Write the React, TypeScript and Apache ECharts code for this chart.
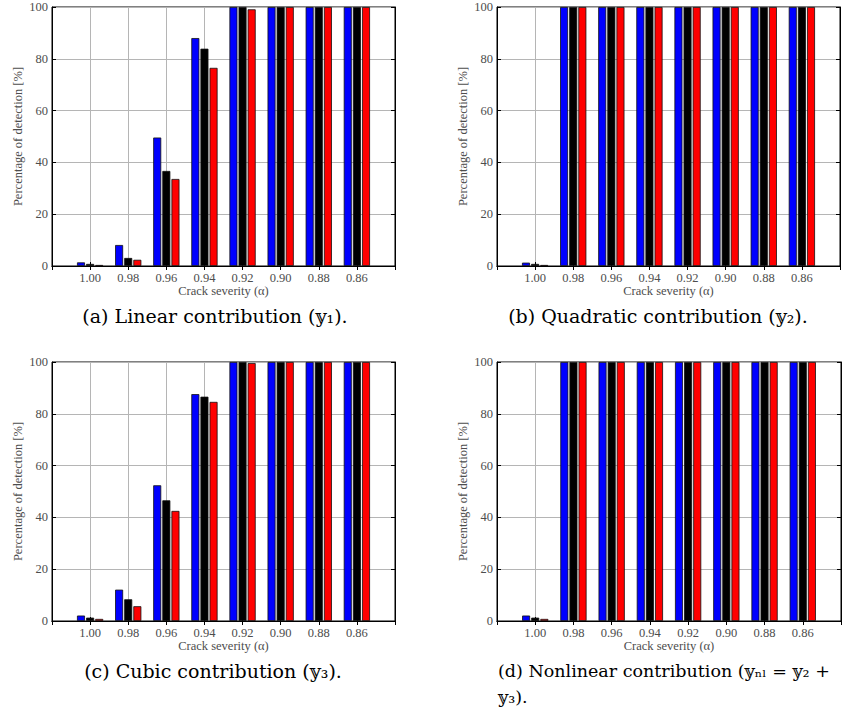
import React, { useEffect, useRef } from "react";
import * as echarts from "echarts";

const categories = ["1.00", "0.98", "0.96", "0.94", "0.92", "0.90", "0.88", "0.86"];
const yTicks = [0, 20, 40, 60, 80, 100];

const linearBlue = [1.4, 8.1, 49.6, 88.0, 100, 100, 100, 100];
const linearBlack = [0.8, 3.1, 36.7, 83.9, 100, 100, 100, 100];
const linearRed = [0.4, 2.4, 33.6, 76.5, 99.1, 100, 100, 100];

const quadBlue = [1.3, 100, 100, 100, 100, 100, 100, 100];
const quadBlack = [0.8, 100, 100, 100, 100, 100, 100, 100];
const quadRed = [0.4, 100, 100, 100, 100, 100, 100, 100];

const cubicBlue = [2.1, 12.1, 52.4, 87.6, 100, 100, 100, 100];
const cubicBlack = [1.3, 8.4, 46.6, 86.6, 100, 100, 100, 100];
const cubicRed = [0.8, 5.7, 42.5, 84.6, 99.6, 100, 100, 100];

const nlBlue = [2.1, 100, 100, 100, 100, 100, 100, 100];
const nlBlack = [1.3, 100, 100, 100, 100, 100, 100, 100];
const nlRed = [0.8, 100, 100, 100, 100, 100, 100, 100];

const seriesColors = ["#0000ff", "#000000", "#ff0000"];

const panels = [
  { grid: { left: 52, top: 7, width: 343, height: 259 }, data: [linearBlue, linearBlack, linearRed] },
  { grid: { left: 497, top: 7, width: 343, height: 259 }, data: [quadBlue, quadBlack, quadRed] },
  { grid: { left: 52, top: 362, width: 343, height: 259 }, data: [cubicBlue, cubicBlack, cubicRed] },
  { grid: { left: 497, top: 362, width: 344, height: 259 }, data: [nlBlue, nlBlack, nlRed] },
];

const captions = [
  { text: "(a) Linear contribution (𝕪₁).", x: 215, y: 316, align: "center", size: 19 },
  { text: "(b) Quadratic contribution (𝕪₂).", x: 658, y: 316, align: "center", size: 19 },
  { text: "(c) Cubic contribution (𝕪₃).", x: 213, y: 671, align: "center", size: 19 },
  { text: "(d) Nonlinear contribution (𝕪ₙₗ = 𝕪₂ +", x: 498, y: 671, align: "left", size: 17.5 },
  { text: "𝕪₃).", x: 498, y: 697, align: "left", size: 17.5 },
];

const tickFont = {
  fontFamily: "'Liberation Serif', 'DejaVu Serif', serif",
  fontSize: 12.5,
  color: "#4d4d4d",
};

export default function App() {
  const ref = useRef<HTMLDivElement>(null);
  useEffect(() => {
    if (!ref.current) return;
    const chart = echarts.init(ref.current, undefined, { renderer: "svg" });
    const xData = ["", ...categories, ""];
    const grids: any[] = [];
    const xAxes: any[] = [];
    const yAxes: any[] = [];
    const series: any[] = [];
    panels.forEach((p, i) => {
      grids.push({ ...p.grid, show: true, borderColor: "#000", borderWidth: 1, containLabel: false });
      xAxes.push({
        type: "category",
        gridIndex: i,
        data: xData,
        boundaryGap: false,
        position: "bottom",
        name: "Crack severity (α)",
        nameLocation: "middle",
        nameGap: 18,
        nameTextStyle: { ...tickFont },
        axisLine: { show: true, lineStyle: { color: "#000", width: 1 } },
        axisTick: { show: true, inside: true, length: 4, lineStyle: { color: "#000" }, interval: 0 },
        axisLabel: { ...tickFont, margin: 5, interval: 0 },
        splitLine: { show: true, interval: 0, lineStyle: { color: "#b5b5b5", width: 1 } },
      });
      xAxes.push({
        type: "category",
        gridIndex: i,
        data: xData,
        boundaryGap: false,
        position: "top",
        axisLine: { show: true, lineStyle: { color: "#000", width: 1 } },
        axisTick: { show: true, inside: true, length: 4, lineStyle: { color: "#000" }, interval: 0 },
        axisLabel: { show: false },
        splitLine: { show: false },
      });
      yAxes.push({
        type: "value",
        gridIndex: i,
        min: 0,
        max: 100,
        interval: 20,
        position: "left",
        name: "Percentage of detection [%]",
        nameLocation: "middle",
        nameGap: 28,
        nameTextStyle: { ...tickFont },
        axisLine: { show: true, lineStyle: { color: "#000", width: 1 } },
        axisTick: { show: true, inside: true, length: 4, lineStyle: { color: "#000" } },
        axisLabel: { ...tickFont, margin: 4, formatter: (v: number) => (yTicks.includes(v) ? String(v) : "") },
        splitLine: { show: true, lineStyle: { color: "#b5b5b5", width: 1 } },
      });
      yAxes.push({
        type: "value",
        gridIndex: i,
        min: 0,
        max: 100,
        interval: 20,
        position: "right",
        axisLine: { show: true, lineStyle: { color: "#000", width: 1 } },
        axisTick: { show: true, inside: true, length: 4, lineStyle: { color: "#000" } },
        axisLabel: { show: false },
        splitLine: { show: false },
      });
      p.data.forEach((vals, s) => {
        series.push({
          type: "bar",
          xAxisIndex: 2 * i,
          yAxisIndex: 2 * i,
          data: ["-", ...vals, "-"],
          barWidth: 8,
          barGap: "14%",
          itemStyle: { color: seriesColors[s], borderColor: "#111", borderWidth: 0.8 },
          z: 3,
        });
      });
    });
    const graphics = captions.map((c) => ({
      type: "text",
      x: c.x,
      y: c.y,
      style: {
        text: c.text,
        fontFamily: "'DejaVu Serif', 'DejaVu Sans', serif",
        fontSize: c.size,
        fill: "#000",
        align: c.align,
        verticalAlign: "middle",
      },
    }));
    chart.setOption({
      animation: false,
      backgroundColor: "#fff",
      grid: grids,
      xAxis: xAxes,
      yAxis: yAxes,
      series,
      graphic: graphics,
    });
    return () => chart.dispose();
  }, []);
  return (
    <div
      ref={ref}
      style={{ position: "fixed", left: 0, top: 0, width: 854, height: 713 }}
    />
  );
}
